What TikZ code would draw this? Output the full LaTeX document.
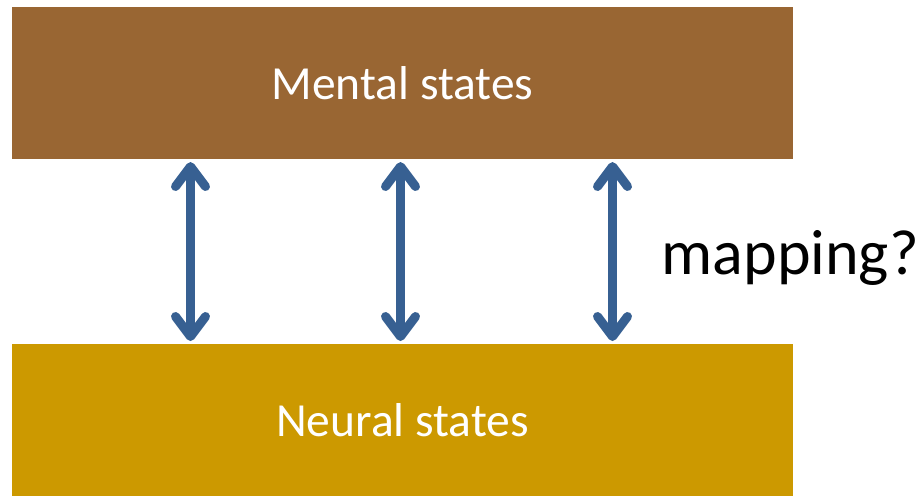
\documentclass[tikz,border=0pt]{standalone}
\usepackage{fontspec}
\setmainfont{Carlito}
\usetikzlibrary{arrows.meta,positioning}
\definecolor{mentalbrown}{RGB}{153,102,51}
\definecolor{neuralgold}{RGB}{204,153,0}
\definecolor{mapblue}{RGB}{55,96,146}

\begin{document}
\begin{tikzpicture}[x=1pt, y=-1pt,
  statebox/.style={fill=#1, draw=none, minimum width=781pt, minimum height=152pt,
    inner sep=0pt, outer sep=0pt, text=white, font=\fontsize{47.5}{57}\selectfont},
  maparrow/.style={mapblue, line width=9pt, line cap=round,
    {Straight Barb[round, length=20pt, width=30pt]}-{Straight Barb[round, length=20pt, width=30pt]},
    shorten <=3pt, shorten >=3pt}]
  \useasboundingbox (0,0) rectangle (923,496);
  % Boites
  \node[statebox=mentalbrown] (mental) at (402.5,83) {Mental states};
  \node[statebox=neuralgold] (neural) at (402.5,420) {Neural states};
  % Fleches
  \foreach \dx/\name in {-212/a, -2/b, 210/c}
    \draw[maparrow] ([xshift=\dx pt]mental.south) -- ([xshift=\dx pt]neural.north)
      coordinate[pos=0.5] (map\name);
  % Etiquette
  \node[right=49pt of mapc, yshift=-6pt, font=\fontsize{64}{76}\selectfont, inner sep=0pt] (maplabel) {mapping?};
\end{tikzpicture}
\end{document}
